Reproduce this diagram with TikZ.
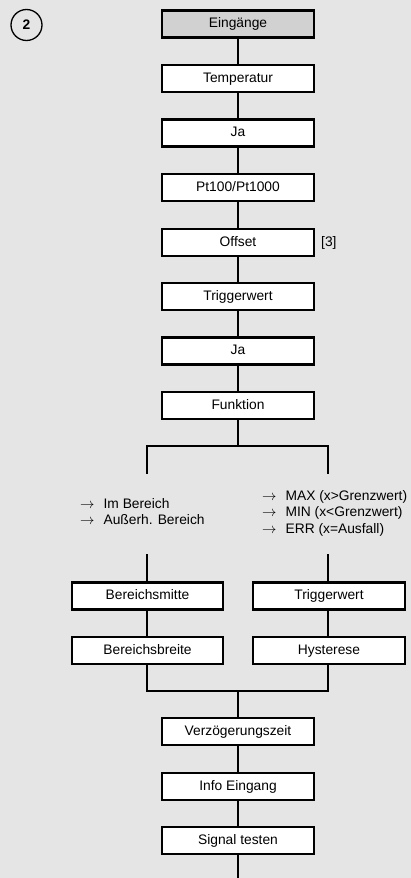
\documentclass[tikz,border=0pt]{standalone}
\usepackage{fontspec}
\setmainfont{Liberation Sans}
\begin{document}
\begin{tikzpicture}[x=1pt,y=-1pt,
  box/.style={draw=black,line width=2.2pt,fill=white,minimum width=152pt,minimum height=27pt,inner sep=0pt,text height=9.8pt,text depth=2.8pt,font=\fontsize{13.8}{16}\selectfont},
  hdr/.style={box,fill=black!18},
  con/.style={line width=2.2pt,line cap=rect},
  lbl/.style={font=\fontsize{13.8}{16.5}\selectfont,inner sep=0pt,align=left}]
\fill[black!10] (0,0) rectangle (411,878);
\useasboundingbox (0,0) rectangle (411,878);
% circled number
\node[draw,circle,line width=1.3pt,minimum size=31pt,inner sep=0pt,font=\fontsize{13.8}{16}\selectfont\bfseries] (num) at (26.5,25) {2};
% main column
\node[hdr] (e) at (238,24) {Eingänge};
\node[box] (t) at (238,78.5) {Temperatur};
\node[box] (ja1) at (238,133) {Ja};
\node[box] (pt) at (238,187.5) {Pt100/Pt1000};
\node[box] (off) at (238,242.5) {Offset};
\node[lbl,anchor=west] (ref) at (321,242.5) {[3]};
\node[box] (tw) at (238,296.5) {Triggerwert};
\node[box] (ja2) at (238,351) {Ja};
\node[box] (fk) at (238,405.5) {Funktion};
\draw[con] (e) -- (t);
\draw[con] (t) -- (ja1);
\draw[con] (ja1) -- (pt);
\draw[con] (pt) -- (off);
\draw[con] (off) -- (tw);
\draw[con] (tw) -- (ja2);
\draw[con] (ja2) -- (fk);
% branch
\coordinate (sp) at (238,446);
\coordinate (la) at (147,446);
\coordinate (ra) at (328,446);
\coordinate (lb) at (147,473);
\coordinate (rb) at (328,473);
\coordinate (lc) at (147,555);
\coordinate (rc) at (328,555);
\draw[con] (fk) -- (sp);
\draw[con] (lb) -- (la) -- (ra) -- (rb);
\node[lbl,anchor=west] (lt) at (80,513) {\begin{tabular}{@{}l@{\hspace{9pt}}l@{}}$\rightarrow$ & Im Bereich\\ $\rightarrow$ & Außerh. Bereich\end{tabular}};
\node[lbl,anchor=west] (rt) at (262,513.5) {\begin{tabular}{@{}l@{\hspace{9pt}}l@{}}$\rightarrow$ & MAX (x>Grenzwert)\\ $\rightarrow$ & MIN (x<Grenzwert)\\ $\rightarrow$ & ERR (x=Ausfall)\end{tabular}};
\node[box,minimum width=151pt] (bm) at (147.5,596) {Bereichsmitte};
\node[box,minimum width=151pt] (bb) at (147.5,650.5) {Bereichsbreite};
\node[box] (tr) at (329,596) {Triggerwert};
\node[box] (hy) at (329,650.5) {Hysterese};
\draw[con] (lc) -- (bm.north -| lc);
\draw[con] (rc) -- (tr.north -| rc);
\draw[con] (bm.south -| lc) -- (bb.north -| lc);
\draw[con] (tr.south -| rc) -- (hy.north -| rc);
% join
\coordinate (jl) at (147,691);
\coordinate (jr) at (328,691);
\coordinate (jm) at (238,691);
\draw[con] (bb.south -| jl) -- (jl) -- (jr) -- (hy.south -| jr);
\node[box] (vz) at (238,731.5) {Verzögerungszeit};
\node[box] (ie) at (238,786.5) {Info Eingang};
\node[box] (st) at (238,840.5) {Signal testen};
\coordinate (end) at (238,880);
\draw[con] (jm) -- (vz);
\draw[con] (vz) -- (ie);
\draw[con] (ie) -- (st);
\draw[con] (st) -- (end);
\end{tikzpicture}
\end{document}
